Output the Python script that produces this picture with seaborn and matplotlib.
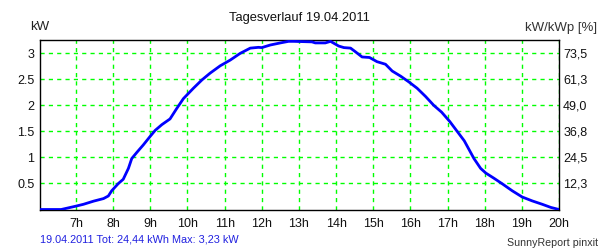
import matplotlib
matplotlib.use("Agg")
import matplotlib.pyplot as plt
import seaborn as sns
import pandas as pd

# --- data (hours of day, kW) ---
hours = [6.03, 6.60, 6.97, 7.20, 7.47, 7.74, 7.87, 7.96, 8.14, 8.27, 8.41, 8.50,
         8.64, 8.81, 8.99, 9.13, 9.31, 9.53, 9.71, 9.89, 10.16, 10.39, 10.61,
         10.88, 11.15, 11.42, 11.69, 11.91, 12.00, 12.23, 12.50, 12.72, 12.86,
         13.35, 13.44, 13.71, 13.85, 14.07, 14.21, 14.39, 14.52, 14.70, 14.90,
         15.10, 15.33, 15.51, 15.74, 15.96, 16.18, 16.41, 16.63, 16.84, 17.06,
         17.26, 17.45, 17.71, 17.89, 18.03, 18.25, 18.48, 18.74, 19.01, 19.28,
         19.55, 19.78, 20.00]
power_kw = [0.0, 0.0, 0.06, 0.10, 0.16, 0.21, 0.26, 0.36, 0.50, 0.58, 0.79, 0.98,
            1.10, 1.24, 1.40, 1.52, 1.63, 1.74, 1.94, 2.13, 2.33, 2.49, 2.62,
            2.76, 2.87, 3.00, 3.10, 3.115, 3.11, 3.16, 3.20, 3.23, 3.23,
            3.22, 3.20, 3.20, 3.23, 3.14, 3.11, 3.10, 3.03, 2.93, 2.92,
            2.84, 2.79, 2.66, 2.56, 2.45, 2.33, 2.17, 2.00, 1.87, 1.69,
            1.50, 1.32, 0.98, 0.79, 0.70, 0.60, 0.49, 0.36, 0.24, 0.165,
            0.10, 0.04, 0.0]

x_ticks = [7, 8, 9, 10, 11, 12, 13, 14, 15, 16, 17, 18, 19, 20]
x_labels = ["7h", "8h", "9h", "10h", "11h", "12h", "13h", "14h", "15h", "16h",
            "17h", "18h", "19h", "20h"]
y_ticks = [0.5, 1, 1.5, 2, 2.5, 3]
y_labels = ["0.5", "1", "1.5", "2", "2.5", "3"]
pct_labels = ["12,3", "24,5", "36,8", "49,0", "61,3", "73,5"]

title = "Tagesverlauf 19.04.2011"
footer_left = "19.04.2011 Tot: 24,44 kWh Max: 3,23 kW"
footer_right = "SunnyReport pinxit"

sns.set_style("white")
plt.rcParams["font.family"] = ["Liberation Sans", "DejaVu Sans"]

df = pd.DataFrame({"hour": hours, "kW": power_kw})

fig = plt.figure(figsize=(6, 2.5), dpi=100)
ax = fig.add_axes([40 / 600, 1 - 209.5 / 250, 519 / 600, 169.5 / 250])

sns.lineplot(data=df, x="hour", y="kW", ax=ax, color="#0000FF", linewidth=2,
             zorder=3)

ax.set_xlim(6.03, 20.0)
ax.set_ylim(0, 3.256)
ax.set_xticks(x_ticks)
ax.set_xticklabels(x_labels)
ax.set_yticks(y_ticks)
ax.set_yticklabels(y_labels)
ax.set_xlabel("")
ax.set_ylabel("")
ax.grid(True, color="#00FF00", linestyle=(0, (3, 3)), linewidth=1)
ax.tick_params(axis="both", length=0, labelsize=9, colors="#111111")
ax.tick_params(axis="x", pad=6)
ax.tick_params(axis="y", pad=4)
for s in ax.spines.values():
    s.set_color("black")
    s.set_linewidth(1)
    s.set_visible(True)

ax2 = ax.twinx()
ax2.set_ylim(ax.get_ylim())
ax2.set_yticks(y_ticks)
ax2.set_yticklabels(pct_labels)
ax2.tick_params(axis="y", length=0, labelsize=9, colors="#111111", pad=3)
for s in ax2.spines.values():
    s.set_visible(False)

fig.text(299 / 600, 1 - 18 / 250, title, ha="center", va="center",
         fontsize=9.3, color="#111111")
fig.text(30 / 600, 1 - 27 / 250, "kW", ha="left", va="center",
         fontsize=9.5, color="#222222")
fig.text(597 / 600, 1 - 28 / 250, "kW/kWp [%]", ha="right", va="center",
         fontsize=9.5, color="#333333")
fig.text(40 / 600, 1 - 240 / 250, footer_left, ha="left", va="center",
         fontsize=7.8, color="#2020E0")
fig.text(598 / 600, 1 - 243 / 250, footer_right, ha="right", va="center",
         fontsize=7.7, color="#333333")

fig.savefig("out.png", dpi=100, facecolor="white")
